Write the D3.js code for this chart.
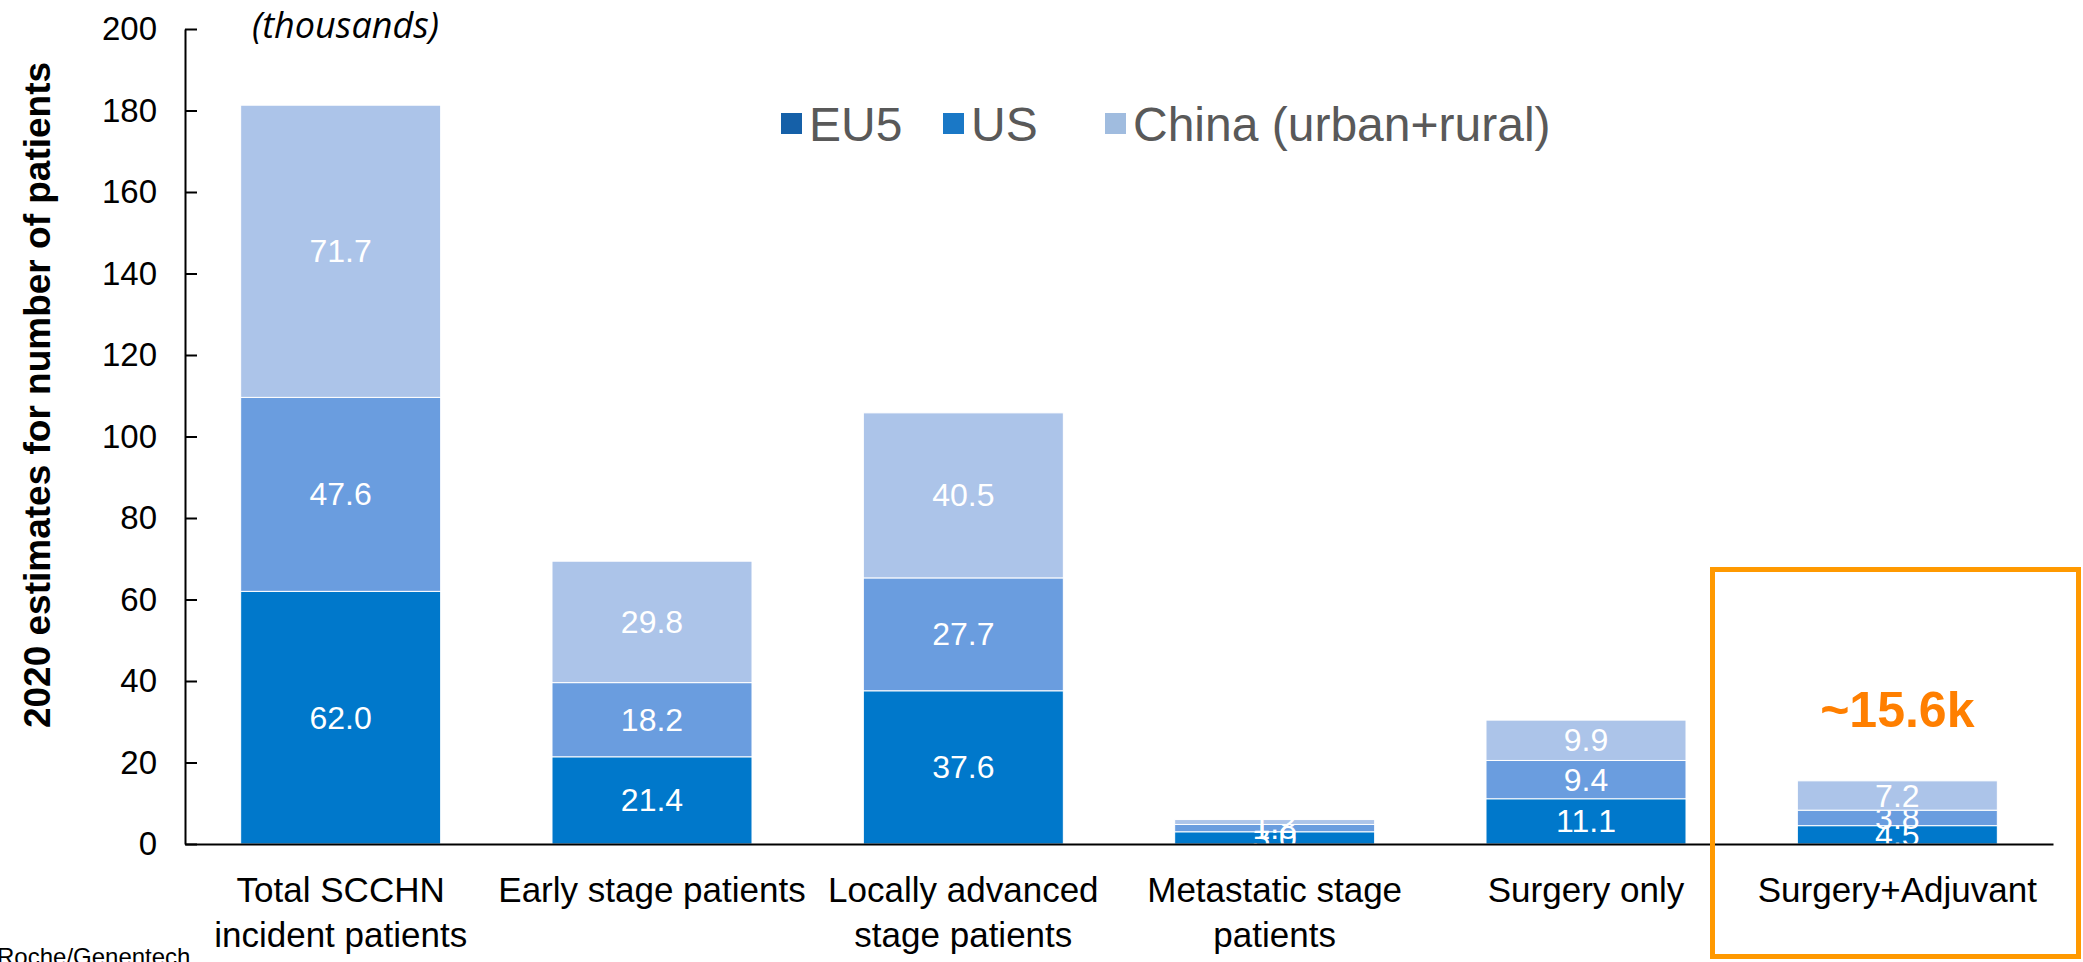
<!DOCTYPE html>
<html>
<head>
<meta charset="utf-8">
<script src="https://cdn.jsdelivr.net/npm/d3@7"></script>
<style>
  body { margin: 0; background: #fff; }
  svg { display: block; font-family: "Liberation Sans", Arial, sans-serif; }
</style>
</head>
<body>
<div id="my_dataviz"></div>
<script>
// categories (each label split in lines)
var categories = ["Total SCCHN incident patients", "Early stage patients", "Locally advanced stage patients",
                  "Metastatic stage patients", "Surgery only", "Surgery+Adjuvant"];
var categoryLines = [["Total SCCHN", "incident patients"], ["Early stage patients"], ["Locally advanced", "stage patients"],
                     ["Metastatic stage", "patients"], ["Surgery only"], ["Surgery+Adjuvant"]];

// series values, thousands of patients
var series = ["EU5", "US", "China (urban+rural)"];
var eu5   = [62.0, 21.4, 37.6, 3.0, 11.1, 4.5];
var us    = [47.6, 18.2, 27.7, 1.8, 9.4, 3.8];
var china = [71.7, 29.8, 40.5, 1.2, 9.9, 7.2];

var yTicks = [0, 20, 40, 60, 80, 100, 120, 140, 160, 180, 200];
var highlightText = "~15.6k";

var width = 2083, height = 962;
var margin = {top: 29, right: 30, bottom: 118, left: 185};

var svg = d3.select("#my_dataviz")
  .append("svg")
    .attr("width", width)
    .attr("height", height);

// x scale: one band per category
var x = d3.scaleBand()
  .domain(categories)
  .range([margin.left, width - margin.right])
  .paddingInner(0.3576)
  .paddingOuter(0.1788);

var y = d3.scaleLinear()
  .domain([0, 200])
  .range([height - margin.bottom, margin.top]);

// stack the three series
var rows = categories.map(function(c, i) {
  return {cat: c, "EU5": eu5[i], "US": us[i], "China (urban+rural)": china[i]};
});
var stacked = d3.stack().keys(series)(rows);

var barColor = d3.scaleOrdinal()
  .domain(series)
  .range(["#0078cb", "#6a9ddf", "#acc4e9"]);
var legendColor = d3.scaleOrdinal()
  .domain(series)
  .range(["#1560a8", "#1a78c6", "#a0bcdf"]);

// bars
var layer = svg.append("g")
  .selectAll("g")
  .data(stacked)
  .enter().append("g")
    .attr("fill", function(d) { return barColor(d.key); });

layer.selectAll("rect")
  .data(function(d) { return d; })
  .enter().append("rect")
    .attr("x", function(d) { return x(d.data.cat); })
    .attr("y", function(d) { return y(d[1]); })
    .attr("width", x.bandwidth())
    .attr("height", function(d) { return y(d[0]) - y(d[1]); })
    .attr("stroke", "#fff")
    .attr("stroke-width", 1);

// value labels, centred in each segment
layer.selectAll("text")
  .data(function(d) { return d; })
  .enter().append("text")
    .attr("x", function(d) { return x(d.data.cat) + x.bandwidth() / 2; })
    .attr("y", function(d) { return (y(d[0]) + y(d[1])) / 2; })
    .attr("text-anchor", "middle")
    .attr("dominant-baseline", "central")
    .style("fill", "#fff")
    .style("font-size", "32px")
    .text(function(d) { return (d[1] - d[0]).toFixed(1); });

// Y axis, ticks pointing into the plot
var yAxis = svg.append("g")
  .attr("transform", "translate(" + margin.left + ",0)")
  .call(d3.axisLeft(y).tickValues(yTicks).tickSizeInner(-12).tickSizeOuter(0).tickPadding(28));
yAxis.select(".domain").attr("stroke", "#000").attr("stroke-width", 2);
yAxis.selectAll(".tick line").attr("stroke", "#000").attr("stroke-width", 2);
yAxis.selectAll("text")
  .style("font-size", "33px")
  .style("font-family", "Liberation Sans, Arial, sans-serif")
  .style("fill", "#000");

// X axis line, no ticks
var xAxis = svg.append("g")
  .attr("transform", "translate(0," + y(0) + ")")
  .call(d3.axisBottom(x).tickSize(0).tickFormat(""));
xAxis.select(".domain").attr("stroke", "#000").attr("stroke-width", 2);

// category labels
svg.append("g")
  .selectAll("text")
  .data(categories)
  .enter().append("text")
    .attr("x", function(d) { return x(d) + x.bandwidth() / 2; })
    .attr("y", 902)
    .attr("text-anchor", "middle")
    .style("font-size", "35px")
    .style("fill", "#000")
    .each(function(d, i) {
      var t = d3.select(this);
      categoryLines[i].forEach(function(line, j) {
        t.append("tspan")
          .attr("x", x(d) + x.bandwidth() / 2)
          .attr("dy", j === 0 ? 0 : 45)
          .text(line);
      });
    });

// y axis title
svg.append("text")
  .attr("transform", "translate(50," + 395 + ") rotate(-90)")
  .attr("text-anchor", "middle")
  .style("font-size", "37px")
  .style("font-weight", "bold")
  .style("fill", "#000")
  .text("2020 estimates for number of patients");

// units note
svg.append("text")
  .attr("x", 252)
  .attr("y", 38)
  .style("font-family", "'Open Sans', sans-serif")
  .style("font-style", "italic")
  .style("font-size", "36px")
  .style("fill", "#000")
  .text("(thousands)");

// legend
var legendX = [781, 943, 1105];
var legend = svg.append("g")
  .selectAll("g")
  .data(series)
  .enter().append("g")
    .attr("transform", function(d, i) { return "translate(" + legendX[i] + ",113)"; });
legend.append("rect")
  .attr("width", 21)
  .attr("height", 21)
  .attr("fill", function(d) { return legendColor(d); });
legend.append("text")
  .attr("x", 28)
  .attr("y", 28)
  .style("font-size", "48px")
  .style("fill", "#595959")
  .text(function(d) { return d; });

// highlight box around Surgery+Adjuvant
svg.append("rect")
  .attr("x", 1712.5)
  .attr("y", 569.5)
  .attr("width", 366)
  .attr("height", 387)
  .attr("fill", "none")
  .attr("stroke", "#ff9900")
  .attr("stroke-width", 5);

svg.append("text")
  .attr("x", x("Surgery+Adjuvant") + x.bandwidth() / 2)
  .attr("y", 727)
  .attr("text-anchor", "middle")
  .style("font-size", "50px")
  .style("font-weight", "bold")
  .style("fill", "#ff7f00")
  .text(highlightText);

// source note, cut at the bottom edge
svg.append("text")
  .attr("x", -3)
  .attr("y", 965)
  .style("font-size", "24px")
  .style("fill", "#000")
  .text("Roche/Genentech");
</script>
</body>
</html>
